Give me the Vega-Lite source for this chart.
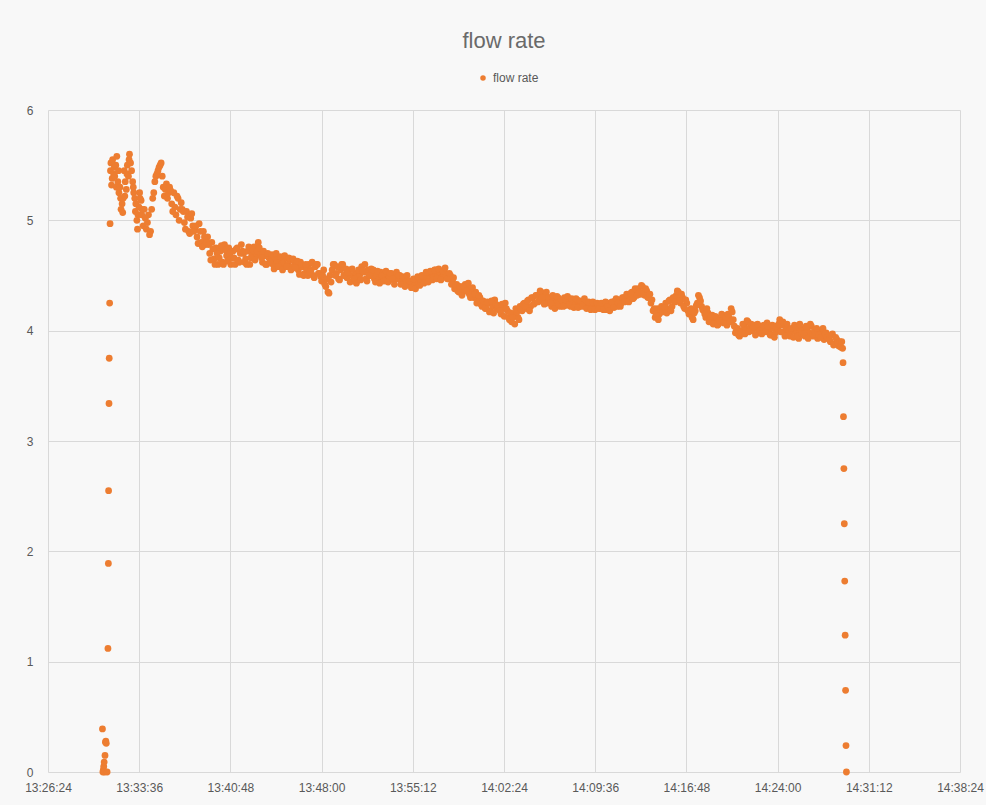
{
 "$schema": "https://vega.github.io/schema/vega-lite/v6.json",
 "width": 912, "height": 662,
 "autosize": "none",
 "padding": {"left": 48, "top": 110, "right": 26, "bottom": 33},
 "background": "#f8f8f8",
 "title": {"text": "flow rate", "anchor": "middle", "fontSize": 22, "font": "Liberation Sans, sans-serif", "fontWeight": "normal", "color": "#6a6a6a", "offset": 19},
 "data": {
  "format": {"parse": {"t": "date:'%H:%M:%S'"}},
  "values": [
   {"t":"13:30:42","v":0.39},{"t":"13:30:44","v":0},{"t":"13:30:46","v":0.02},{"t":"13:30:48","v":0.05},{"t":"13:30:50","v":0.09},{"t":"13:30:52","v":0},{"t":"13:30:54","v":0.15},{"t":"13:30:56","v":0.27},{"t":"13:30:58","v":0.28},{"t":"13:31:00","v":0.26},{"t":"13:31:04","v":0},
   {"t":"13:31:08","v":1.12},{"t":"13:31:10","v":1.89},{"t":"13:31:11","v":2.55},{"t":"13:31:13","v":3.34},{"t":"13:31:14","v":3.75},{"t":"13:31:16","v":4.25},{"t":"13:31:18","v":4.97},
   {"t":"13:31:20","v":5.45},{"t":"13:31:22","v":5.52},{"t":"13:31:25","v":5.32},{"t":"13:31:28","v":5.38},{"t":"13:31:30","v":5.55},{"t":"13:31:35","v":5.42},{"t":"13:31:38","v":5.48},{"t":"13:31:40","v":5.4},{"t":"13:31:45","v":5.5},{"t":"13:31:48","v":5.3},{"t":"13:31:50","v":5.58},{"t":"13:31:55","v":5.35},{"t":"13:31:58","v":5.45},
   {"t":"13:32:00","v":5.25},{"t":"13:32:05","v":5.3},{"t":"13:32:08","v":5.2},{"t":"13:32:10","v":5.1},{"t":"13:32:15","v":5.15},{"t":"13:32:18","v":5.07},{"t":"13:32:20","v":5.2},{"t":"13:32:25","v":5.45},{"t":"13:32:28","v":5.22},{"t":"13:32:30","v":5.35},{"t":"13:32:35","v":5.28},{"t":"13:32:38","v":5.42},{"t":"13:32:40","v":5.5},{"t":"13:32:45","v":5.4},{"t":"13:32:48","v":5.55},{"t":"13:32:50","v":5.6},{"t":"13:32:55","v":5.52},
   {"t":"13:33:00","v":5.45},{"t":"13:33:05","v":5.35},{"t":"13:33:08","v":5.3},{"t":"13:33:10","v":5.25},{"t":"13:33:15","v":5.2},{"t":"13:33:18","v":5.08},{"t":"13:33:20","v":5.15},{"t":"13:33:25","v":5.0},{"t":"13:33:28","v":4.92},{"t":"13:33:30","v":5.05},{"t":"13:33:35","v":5.12},{"t":"13:33:38","v":5.25},{"t":"13:33:40","v":5.2},{"t":"13:33:45","v":5.18},{"t":"13:33:48","v":5.05},{"t":"13:33:50","v":5.1},{"t":"13:33:55","v":4.95},
   {"t":"13:34:00","v":5.1},{"t":"13:34:05","v":5.02},{"t":"13:34:10","v":4.92},{"t":"13:34:15","v":4.98},{"t":"13:34:20","v":5.05},{"t":"13:34:25","v":4.87},{"t":"13:34:30","v":4.9},{"t":"13:34:35","v":5.1},{"t":"13:34:40","v":5.2},{"t":"13:34:45","v":5.25},{"t":"13:34:50","v":5.35},{"t":"13:34:55","v":5.4},
   {"t":"13:35:00","v":5.42},{"t":"13:35:05","v":5.45},{"t":"13:35:10","v":5.48},{"t":"13:35:15","v":5.5},{"t":"13:35:20","v":5.52},{"t":"13:35:25","v":5.4},{"t":"13:35:30","v":5.3},{"t":"13:35:35","v":5.22},{"t":"13:35:40","v":5.28},{"t":"13:35:45","v":5.33},{"t":"13:35:50","v":5.2},{"t":"13:35:55","v":5.25},
   {"t":"13:36:00","v":5.3},{"t":"13:36:10","v":5.15},{"t":"13:36:20","v":5.25},{"t":"13:36:30","v":5.05},{"t":"13:36:40","v":5.2},{"t":"13:36:50","v":5.1},
   {"t":"13:37:00","v":5.1},{"t":"13:37:10","v":4.98},{"t":"13:37:20","v":5.08},{"t":"13:37:30","v":4.9},{"t":"13:37:40","v":5.02},{"t":"13:37:50","v":4.95},
   {"t":"13:38:00","v":4.92},{"t":"13:38:10","v":4.85},{"t":"13:38:20","v":4.97},{"t":"13:38:30","v":4.8},{"t":"13:38:40","v":4.9},{"t":"13:38:50","v":4.78},
   {"t":"13:39:00","v":4.85},{"t":"13:39:10","v":4.7},{"t":"13:39:20","v":4.8},{"t":"13:39:30","v":4.65},{"t":"13:39:40","v":4.75},{"t":"13:39:50","v":4.6},
   {"t":"13:40:00","v":4.72},{"t":"13:40:10","v":4.62},{"t":"13:40:20","v":4.78},{"t":"13:40:30","v":4.68},{"t":"13:40:40","v":4.75},{"t":"13:40:50","v":4.6},
   {"t":"13:41:00","v":4.72},{"t":"13:41:10","v":4.6},{"t":"13:41:20","v":4.75},{"t":"13:41:30","v":4.62},{"t":"13:41:40","v":4.78},{"t":"13:41:50","v":4.7},
   {"t":"13:42:00","v":4.65},{"t":"13:42:10","v":4.72},{"t":"13:42:20","v":4.6},{"t":"13:42:30","v":4.7},{"t":"13:42:40","v":4.76},{"t":"13:42:50","v":4.68},
   {"t":"13:43:00","v":4.8},{"t":"13:43:10","v":4.7},{"t":"13:43:20","v":4.62},{"t":"13:43:30","v":4.68},{"t":"13:43:40","v":4.6},{"t":"13:43:50","v":4.66},
   {"t":"13:44:00","v":4.64},{"t":"13:44:10","v":4.6},{"t":"13:44:20","v":4.66},{"t":"13:44:30","v":4.62},{"t":"13:44:40","v":4.65},{"t":"13:44:50","v":4.6},
   {"t":"13:45:00","v":4.62},{"t":"13:45:10","v":4.66},{"t":"13:45:20","v":4.6},{"t":"13:45:30","v":4.64},{"t":"13:45:40","v":4.58},{"t":"13:45:50","v":4.63},
   {"t":"13:46:00","v":4.6},{"t":"13:46:10","v":4.55},{"t":"13:46:20","v":4.62},{"t":"13:46:30","v":4.58},{"t":"13:46:40","v":4.52},{"t":"13:46:50","v":4.56},
   {"t":"13:47:00","v":4.6},{"t":"13:47:10","v":4.55},{"t":"13:47:20","v":4.5},{"t":"13:47:30","v":4.58},{"t":"13:47:40","v":4.6},{"t":"13:47:50","v":4.52},
   {"t":"13:48:00","v":4.45},{"t":"13:48:10","v":4.55},{"t":"13:48:20","v":4.4},{"t":"13:48:30","v":4.35},{"t":"13:48:40","v":4.5},{"t":"13:48:50","v":4.55},
   {"t":"13:49:00","v":4.6},{"t":"13:49:10","v":4.52},{"t":"13:49:20","v":4.47},{"t":"13:49:30","v":4.55},{"t":"13:49:40","v":4.6},{"t":"13:49:50","v":4.5},
   {"t":"13:50:00","v":4.48},{"t":"13:50:10","v":4.55},{"t":"13:50:20","v":4.5},{"t":"13:50:30","v":4.45},{"t":"13:50:40","v":4.52},{"t":"13:50:50","v":4.48},
   {"t":"13:51:00","v":4.5},{"t":"13:51:10","v":4.58},{"t":"13:51:20","v":4.53},{"t":"13:51:30","v":4.47},{"t":"13:51:40","v":4.55},{"t":"13:51:50","v":4.5},
   {"t":"13:52:00","v":4.52},{"t":"13:52:10","v":4.47},{"t":"13:52:20","v":4.5},{"t":"13:52:30","v":4.46},{"t":"13:52:40","v":4.53},{"t":"13:52:50","v":4.48},
   {"t":"13:53:00","v":4.5},{"t":"13:53:10","v":4.45},{"t":"13:53:20","v":4.48},{"t":"13:53:30","v":4.52},{"t":"13:53:40","v":4.46},{"t":"13:53:50","v":4.5},
   {"t":"13:54:00","v":4.47},{"t":"13:54:10","v":4.5},{"t":"13:54:20","v":4.44},{"t":"13:54:30","v":4.48},{"t":"13:54:40","v":4.45},{"t":"13:54:50","v":4.42},
   {"t":"13:55:00","v":4.45},{"t":"13:55:10","v":4.4},{"t":"13:55:20","v":4.43},{"t":"13:55:30","v":4.47},{"t":"13:55:40","v":4.44},{"t":"13:55:50","v":4.46},
   {"t":"13:56:00","v":4.48},{"t":"13:56:10","v":4.45},{"t":"13:56:20","v":4.5},{"t":"13:56:30","v":4.47},{"t":"13:56:40","v":4.52},{"t":"13:56:50","v":4.5},
   {"t":"13:57:00","v":4.55},{"t":"13:57:10","v":4.5},{"t":"13:57:20","v":4.53},{"t":"13:57:30","v":4.48},{"t":"13:57:40","v":4.5},{"t":"13:57:50","v":4.52},
   {"t":"13:58:00","v":4.47},{"t":"13:58:10","v":4.5},{"t":"13:58:20","v":4.45},{"t":"13:58:30","v":4.38},{"t":"13:58:40","v":4.42},{"t":"13:58:50","v":4.35},
   {"t":"13:59:00","v":4.4},{"t":"13:59:10","v":4.35},{"t":"13:59:20","v":4.42},{"t":"13:59:30","v":4.38},{"t":"13:59:40","v":4.33},{"t":"13:59:50","v":4.37},
   {"t":"14:00:00","v":4.3},{"t":"14:00:10","v":4.35},{"t":"14:00:20","v":4.28},{"t":"14:00:30","v":4.3},{"t":"14:00:40","v":4.22},{"t":"14:00:50","v":4.25},
   {"t":"14:01:00","v":4.2},{"t":"14:01:10","v":4.25},{"t":"14:01:20","v":4.18},{"t":"14:01:30","v":4.22},{"t":"14:01:40","v":4.28},{"t":"14:01:50","v":4.2},
   {"t":"14:02:00","v":4.22},{"t":"14:02:10","v":4.15},{"t":"14:02:20","v":4.2},{"t":"14:02:30","v":4.25},{"t":"14:02:40","v":4.18},{"t":"14:02:50","v":4.1},
   {"t":"14:03:00","v":4.08},{"t":"14:03:10","v":4.15},{"t":"14:03:20","v":4.2},{"t":"14:03:30","v":4.12},{"t":"14:03:40","v":4.22},{"t":"14:03:50","v":4.18},
   {"t":"14:04:00","v":4.25},{"t":"14:04:10","v":4.2},{"t":"14:04:20","v":4.28},{"t":"14:04:30","v":4.22},{"t":"14:04:40","v":4.3},{"t":"14:04:50","v":4.25},
   {"t":"14:05:00","v":4.32},{"t":"14:05:10","v":4.27},{"t":"14:05:20","v":4.35},{"t":"14:05:30","v":4.28},{"t":"14:05:40","v":4.33},{"t":"14:05:50","v":4.25},
   {"t":"14:06:00","v":4.3},{"t":"14:06:10","v":4.22},{"t":"14:06:20","v":4.28},{"t":"14:06:30","v":4.25},{"t":"14:06:40","v":4.3},{"t":"14:06:50","v":4.22},
   {"t":"14:07:00","v":4.26},{"t":"14:07:10","v":4.3},{"t":"14:07:20","v":4.23},{"t":"14:07:30","v":4.28},{"t":"14:07:40","v":4.22},{"t":"14:07:50","v":4.27},
   {"t":"14:08:00","v":4.24},{"t":"14:08:10","v":4.28},{"t":"14:08:20","v":4.22},{"t":"14:08:30","v":4.26},{"t":"14:08:40","v":4.23},{"t":"14:08:50","v":4.25},
   {"t":"14:09:00","v":4.22},{"t":"14:09:10","v":4.25},{"t":"14:09:20","v":4.2},{"t":"14:09:30","v":4.24},{"t":"14:09:40","v":4.21},{"t":"14:09:50","v":4.23},
   {"t":"14:10:00","v":4.2},{"t":"14:10:10","v":4.24},{"t":"14:10:20","v":4.22},{"t":"14:10:30","v":4.19},{"t":"14:10:40","v":4.25},{"t":"14:10:50","v":4.22},
   {"t":"14:11:00","v":4.24},{"t":"14:11:10","v":4.27},{"t":"14:11:20","v":4.22},{"t":"14:11:30","v":4.28},{"t":"14:11:40","v":4.25},{"t":"14:11:50","v":4.3},
   {"t":"14:12:00","v":4.27},{"t":"14:12:10","v":4.32},{"t":"14:12:20","v":4.28},{"t":"14:12:30","v":4.35},{"t":"14:12:40","v":4.3},{"t":"14:12:50","v":4.36},
   {"t":"14:13:00","v":4.38},{"t":"14:13:10","v":4.33},{"t":"14:13:20","v":4.4},{"t":"14:13:30","v":4.32},{"t":"14:13:40","v":4.36},{"t":"14:13:50","v":4.3},
   {"t":"14:14:00","v":4.25},{"t":"14:14:10","v":4.18},{"t":"14:14:20","v":4.12},{"t":"14:14:30","v":4.2},{"t":"14:14:40","v":4.15},{"t":"14:14:50","v":4.22},
   {"t":"14:15:00","v":4.18},{"t":"14:15:10","v":4.25},{"t":"14:15:20","v":4.2},{"t":"14:15:30","v":4.28},{"t":"14:15:40","v":4.22},{"t":"14:15:50","v":4.3},
   {"t":"14:16:00","v":4.32},{"t":"14:16:10","v":4.35},{"t":"14:16:20","v":4.25},{"t":"14:16:30","v":4.3},{"t":"14:16:40","v":4.2},{"t":"14:16:50","v":4.25},
   {"t":"14:17:00","v":4.15},{"t":"14:17:10","v":4.2},{"t":"14:17:20","v":4.1},{"t":"14:17:30","v":4.18},{"t":"14:17:40","v":4.25},{"t":"14:17:50","v":4.3},
   {"t":"14:18:00","v":4.22},{"t":"14:18:10","v":4.18},{"t":"14:18:20","v":4.12},{"t":"14:18:30","v":4.16},{"t":"14:18:40","v":4.1},{"t":"14:18:50","v":4.14},
   {"t":"14:19:00","v":4.08},{"t":"14:19:10","v":4.12},{"t":"14:19:20","v":4.06},{"t":"14:19:30","v":4.1},{"t":"14:19:40","v":4.14},{"t":"14:19:50","v":4.1},
   {"t":"14:20:00","v":4.05},{"t":"14:20:10","v":4.12},{"t":"14:20:20","v":4.2},{"t":"14:20:30","v":4.1},{"t":"14:20:40","v":3.98},{"t":"14:20:50","v":4.02},
   {"t":"14:21:00","v":3.95},{"t":"14:21:10","v":4.0},{"t":"14:21:20","v":4.05},{"t":"14:21:30","v":4.02},{"t":"14:21:40","v":4.08},{"t":"14:21:50","v":4.03},
   {"t":"14:22:00","v":4.0},{"t":"14:22:10","v":4.05},{"t":"14:22:20","v":4.02},{"t":"14:22:30","v":3.98},{"t":"14:22:40","v":4.04},{"t":"14:22:50","v":4.0},
   {"t":"14:23:00","v":4.03},{"t":"14:23:10","v":4.07},{"t":"14:23:20","v":4.0},{"t":"14:23:30","v":3.96},{"t":"14:23:40","v":4.02},{"t":"14:23:50","v":3.98},
   {"t":"14:24:00","v":4.02},{"t":"14:24:10","v":4.1},{"t":"14:24:20","v":4.05},{"t":"14:24:30","v":3.98},{"t":"14:24:40","v":4.02},{"t":"14:24:50","v":3.96},
   {"t":"14:25:00","v":3.95},{"t":"14:25:10","v":4.0},{"t":"14:25:20","v":4.05},{"t":"14:25:30","v":3.98},{"t":"14:25:40","v":3.93},{"t":"14:25:50","v":4.02},
   {"t":"14:26:00","v":4.0},{"t":"14:26:10","v":3.95},{"t":"14:26:20","v":4.02},{"t":"14:26:30","v":3.98},{"t":"14:26:40","v":4.04},{"t":"14:26:50","v":3.95},
   {"t":"14:27:00","v":3.98},{"t":"14:27:10","v":3.93},{"t":"14:27:20","v":4.0},{"t":"14:27:30","v":3.96},{"t":"14:27:40","v":3.92},{"t":"14:27:50","v":3.98},
   {"t":"14:28:00","v":3.95},{"t":"14:28:10","v":3.9},{"t":"14:28:20","v":3.97},{"t":"14:28:30","v":3.88},{"t":"14:28:40","v":3.92},{"t":"14:28:50","v":3.86},
   {"t":"13:36:05","v":5.27},{"t":"13:36:15","v":5.08},{"t":"13:36:25","v":5.12},{"t":"13:36:35","v":5.22},{"t":"13:36:45","v":5.0},{"t":"13:36:55","v":5.16},
   {"t":"13:37:05","v":5.08},{"t":"13:37:15","v":4.92},{"t":"13:37:25","v":5.03},{"t":"13:37:35","v":4.88},{"t":"13:37:45","v":5.06},{"t":"13:37:55","v":4.9},
   {"t":"13:38:05","v":4.95},{"t":"13:38:15","v":4.79},{"t":"13:38:25","v":4.9},{"t":"13:38:35","v":4.76},{"t":"13:38:45","v":4.85},{"t":"13:38:55","v":4.8},
   {"t":"13:39:05","v":4.78},{"t":"13:39:15","v":4.64},{"t":"13:39:25","v":4.74},{"t":"13:39:35","v":4.6},{"t":"13:39:45","v":4.7},{"t":"13:39:55","v":4.66},
   {"t":"13:40:05","v":4.77},{"t":"13:40:15","v":4.6},{"t":"13:40:25","v":4.73},{"t":"13:40:35","v":4.63},{"t":"13:40:45","v":4.7},{"t":"13:40:55","v":4.66},
   {"t":"13:41:05","v":4.66},{"t":"13:41:15","v":4.74},{"t":"13:41:25","v":4.64},{"t":"13:41:35","v":4.7},{"t":"13:41:45","v":4.72},{"t":"13:41:55","v":4.62},
   {"t":"13:42:05","v":4.6},{"t":"13:42:15","v":4.76},{"t":"13:42:25","v":4.66},{"t":"13:42:35","v":4.73},{"t":"13:42:45","v":4.64},{"t":"13:42:55","v":4.72},
   {"t":"13:43:05","v":4.75},{"t":"13:43:15","v":4.66},{"t":"13:43:25","v":4.72},{"t":"13:43:35","v":4.6},{"t":"13:43:45","v":4.7},{"t":"13:43:55","v":4.62},
   {"t":"13:44:05","v":4.69},{"t":"13:44:15","v":4.56},{"t":"13:44:25","v":4.7},{"t":"13:44:35","v":4.58},{"t":"13:44:45","v":4.67},{"t":"13:44:55","v":4.55},
   {"t":"13:45:05","v":4.68},{"t":"13:45:15","v":4.58},{"t":"13:45:25","v":4.66},{"t":"13:45:35","v":4.55},{"t":"13:45:45","v":4.65},{"t":"13:45:55","v":4.57},
   {"t":"13:46:05","v":4.63},{"t":"13:46:15","v":4.51},{"t":"13:46:25","v":4.6},{"t":"13:46:35","v":4.5},{"t":"13:46:45","v":4.6},{"t":"13:46:55","v":4.5},
   {"t":"13:47:05","v":4.53},{"t":"13:47:15","v":4.62},{"t":"13:47:25","v":4.48},{"t":"13:47:35","v":4.6},{"t":"13:47:45","v":4.52},{"t":"13:47:55","v":4.49},
   {"t":"13:48:05","v":4.5},{"t":"13:48:15","v":4.42},{"t":"13:48:25","v":4.47},{"t":"13:48:35","v":4.34},{"t":"13:48:45","v":4.44},{"t":"13:48:55","v":4.6},
   {"t":"13:49:05","v":4.5},{"t":"13:49:15","v":4.58},{"t":"13:49:25","v":4.46},{"t":"13:49:35","v":4.6},{"t":"13:49:45","v":4.5},{"t":"13:49:55","v":4.56},
   {"t":"13:50:05","v":4.53},{"t":"13:50:15","v":4.44},{"t":"13:50:25","v":4.56},{"t":"13:50:35","v":4.47},{"t":"13:50:45","v":4.43},{"t":"13:50:55","v":4.55},
   {"t":"13:51:05","v":4.46},{"t":"13:51:15","v":4.54},{"t":"13:51:25","v":4.6},{"t":"13:51:35","v":4.45},{"t":"13:51:45","v":4.5},{"t":"13:51:55","v":4.56},
   {"t":"13:52:05","v":4.55},{"t":"13:52:15","v":4.44},{"t":"13:52:25","v":4.54},{"t":"13:52:35","v":4.43},{"t":"13:52:45","v":4.5},{"t":"13:52:55","v":4.45},
   {"t":"13:53:05","v":4.54},{"t":"13:53:15","v":4.44},{"t":"13:53:25","v":4.52},{"t":"13:53:35","v":4.47},{"t":"13:53:45","v":4.42},{"t":"13:53:55","v":4.53},
   {"t":"13:54:05","v":4.5},{"t":"13:54:15","v":4.42},{"t":"13:54:25","v":4.49},{"t":"13:54:35","v":4.4},{"t":"13:54:45","v":4.5},{"t":"13:54:55","v":4.45},
   {"t":"13:55:05","v":4.39},{"t":"13:55:15","v":4.47},{"t":"13:55:25","v":4.38},{"t":"13:55:35","v":4.49},{"t":"13:55:45","v":4.41},{"t":"13:55:55","v":4.5},
   {"t":"13:56:05","v":4.43},{"t":"13:56:15","v":4.53},{"t":"13:56:25","v":4.44},{"t":"13:56:35","v":4.54},{"t":"13:56:45","v":4.46},{"t":"13:56:55","v":4.55},
   {"t":"13:57:05","v":4.47},{"t":"13:57:15","v":4.56},{"t":"13:57:25","v":4.46},{"t":"13:57:35","v":4.54},{"t":"13:57:45","v":4.57},{"t":"13:57:55","v":4.47},
   {"t":"13:58:05","v":4.52},{"t":"13:58:15","v":4.42},{"t":"13:58:25","v":4.48},{"t":"13:58:35","v":4.41},{"t":"13:58:45","v":4.36},{"t":"13:58:55","v":4.4},
   {"t":"13:59:05","v":4.32},{"t":"13:59:15","v":4.4},{"t":"13:59:25","v":4.36},{"t":"13:59:35","v":4.43},{"t":"13:59:45","v":4.3},{"t":"13:59:55","v":4.39},
   {"t":"14:00:05","v":4.33},{"t":"14:00:15","v":4.25},{"t":"14:00:25","v":4.32},{"t":"14:00:35","v":4.24},{"t":"14:00:45","v":4.27},{"t":"14:00:55","v":4.2},
   {"t":"14:01:05","v":4.26},{"t":"14:01:15","v":4.17},{"t":"14:01:25","v":4.27},{"t":"14:01:35","v":4.16},{"t":"14:01:45","v":4.24},{"t":"14:01:55","v":4.23},
   {"t":"14:02:05","v":4.18},{"t":"14:02:15","v":4.24},{"t":"14:02:25","v":4.13},{"t":"14:02:35","v":4.2},{"t":"14:02:45","v":4.12},{"t":"14:02:55","v":4.16},
   {"t":"14:03:05","v":4.12},{"t":"14:03:15","v":4.06},{"t":"14:03:25","v":4.17},{"t":"14:03:35","v":4.1},{"t":"14:03:45","v":4.19},{"t":"14:03:55","v":4.24},
   {"t":"14:04:05","v":4.22},{"t":"14:04:15","v":4.27},{"t":"14:04:25","v":4.18},{"t":"14:04:35","v":4.3},{"t":"14:04:45","v":4.24},{"t":"14:04:55","v":4.32},
   {"t":"14:05:05","v":4.26},{"t":"14:05:15","v":4.36},{"t":"14:05:25","v":4.3},{"t":"14:05:35","v":4.24},{"t":"14:05:45","v":4.35},{"t":"14:05:55","v":4.3},
   {"t":"14:06:05","v":4.25},{"t":"14:06:15","v":4.32},{"t":"14:06:25","v":4.2},{"t":"14:06:35","v":4.31},{"t":"14:06:45","v":4.24},{"t":"14:06:55","v":4.28},
   {"t":"14:07:05","v":4.22},{"t":"14:07:15","v":4.28},{"t":"14:07:25","v":4.31},{"t":"14:07:35","v":4.24},{"t":"14:07:45","v":4.29},{"t":"14:07:55","v":4.21},
   {"t":"14:08:05","v":4.29},{"t":"14:08:15","v":4.21},{"t":"14:08:25","v":4.27},{"t":"14:08:35","v":4.22},{"t":"14:08:45","v":4.29},{"t":"14:08:55","v":4.2},
   {"t":"14:09:05","v":4.26},{"t":"14:09:15","v":4.19},{"t":"14:09:25","v":4.26},{"t":"14:09:35","v":4.19},{"t":"14:09:45","v":4.25},{"t":"14:09:55","v":4.2},
   {"t":"14:10:05","v":4.25},{"t":"14:10:15","v":4.19},{"t":"14:10:25","v":4.26},{"t":"14:10:35","v":4.22},{"t":"14:10:45","v":4.18},{"t":"14:10:55","v":4.26},
   {"t":"14:11:05","v":4.21},{"t":"14:11:15","v":4.29},{"t":"14:11:25","v":4.25},{"t":"14:11:35","v":4.22},{"t":"14:11:45","v":4.3},{"t":"14:11:55","v":4.26},
   {"t":"14:12:05","v":4.33},{"t":"14:12:15","v":4.26},{"t":"14:12:25","v":4.34},{"t":"14:12:35","v":4.29},{"t":"14:12:45","v":4.38},{"t":"14:12:55","v":4.32},
   {"t":"14:13:05","v":4.35},{"t":"14:13:15","v":4.41},{"t":"14:13:25","v":4.34},{"t":"14:13:35","v":4.38},{"t":"14:13:45","v":4.3},{"t":"14:13:55","v":4.33},
   {"t":"14:14:05","v":4.28},{"t":"14:14:15","v":4.2},{"t":"14:14:25","v":4.15},{"t":"14:14:35","v":4.1},{"t":"14:14:45","v":4.19},{"t":"14:14:55","v":4.17},
   {"t":"14:15:05","v":4.21},{"t":"14:15:15","v":4.16},{"t":"14:15:25","v":4.27},{"t":"14:15:35","v":4.18},{"t":"14:15:45","v":4.3},{"t":"14:15:55","v":4.26},
   {"t":"14:16:05","v":4.36},{"t":"14:16:15","v":4.28},{"t":"14:16:25","v":4.33},{"t":"14:16:35","v":4.22},{"t":"14:16:45","v":4.28},{"t":"14:16:55","v":4.18},
   {"t":"14:17:05","v":4.18},{"t":"14:17:15","v":4.12},{"t":"14:17:25","v":4.16},{"t":"14:17:35","v":4.23},{"t":"14:17:45","v":4.32},{"t":"14:17:55","v":4.27},
   {"t":"14:18:05","v":4.19},{"t":"14:18:15","v":4.15},{"t":"14:18:25","v":4.2},{"t":"14:18:35","v":4.08},{"t":"14:18:45","v":4.13},{"t":"14:18:55","v":4.06},
   {"t":"14:19:05","v":4.13},{"t":"14:19:15","v":4.05},{"t":"14:19:25","v":4.09},{"t":"14:19:35","v":4.15},{"t":"14:19:45","v":4.07},{"t":"14:19:55","v":4.12},
   {"t":"14:20:05","v":4.15},{"t":"14:20:15","v":4.08},{"t":"14:20:25","v":4.17},{"t":"14:20:35","v":4.04},{"t":"14:20:45","v":4.0},{"t":"14:20:55","v":3.96},
   {"t":"14:21:05","v":3.98},{"t":"14:21:15","v":4.06},{"t":"14:21:25","v":3.97},{"t":"14:21:35","v":4.09},{"t":"14:21:45","v":3.99},{"t":"14:21:55","v":4.06},
   {"t":"14:22:05","v":4.03},{"t":"14:22:15","v":3.96},{"t":"14:22:25","v":4.06},{"t":"14:22:35","v":4.0},{"t":"14:22:45","v":3.97},{"t":"14:22:55","v":4.05},
   {"t":"14:23:05","v":3.99},{"t":"14:23:15","v":4.04},{"t":"14:23:25","v":3.96},{"t":"14:23:35","v":4.05},{"t":"14:23:45","v":3.94},{"t":"14:23:55","v":4.04},
   {"t":"14:24:05","v":4.06},{"t":"14:24:15","v":3.99},{"t":"14:24:25","v":4.08},{"t":"14:24:35","v":3.95},{"t":"14:24:45","v":4.06},{"t":"14:24:55","v":4.0},
   {"t":"14:25:05","v":4.02},{"t":"14:25:15","v":3.94},{"t":"14:25:25","v":4.03},{"t":"14:25:35","v":3.95},{"t":"14:25:45","v":4.06},{"t":"14:25:55","v":3.97},
   {"t":"14:26:05","v":3.97},{"t":"14:26:15","v":4.04},{"t":"14:26:25","v":3.93},{"t":"14:26:35","v":4.06},{"t":"14:26:45","v":3.97},{"t":"14:26:55","v":4.0},
   {"t":"14:27:05","v":4.02},{"t":"14:27:15","v":3.96},{"t":"14:27:25","v":3.94},{"t":"14:27:35","v":4.02},{"t":"14:27:45","v":3.97},{"t":"14:27:55","v":3.94},
   {"t":"14:28:05","v":3.92},{"t":"14:28:15","v":3.96},{"t":"14:28:25","v":3.87},{"t":"14:28:35","v":3.94},{"t":"14:28:45","v":3.89},{"t":"14:28:55","v":3.9},
   {"t":"14:29:00","v":3.85},{"t":"14:29:04","v":3.9},{"t":"14:29:08","v":3.84},
   {"t":"14:29:10","v":3.71},{"t":"14:29:12","v":3.22},{"t":"14:29:14","v":2.75},{"t":"14:29:16","v":2.25},{"t":"14:29:18","v":1.73},{"t":"14:29:20","v":1.24},{"t":"14:29:22","v":0.74},{"t":"14:29:24","v":0.24},{"t":"14:29:26","v":0}
  ]
 },
 "mark": {"type": "circle", "size": 46, "opacity": 1},
 "encoding": {
  "x": {
   "field": "t", "type": "temporal",
   "scale": {"nice": false, "domain": [
    {"year":1900,"month":1,"date":1,"hours":13,"minutes":26,"seconds":24},
    {"year":1900,"month":1,"date":1,"hours":14,"minutes":38,"seconds":24}]},
   "axis": {
    "title": null, "format": "%H:%M:%S", "grid": true, "gridColor": "#d9d9d9", "domain": false, "ticks": false,
    "labelColor": "#595959", "labelFontSize": 12, "labelFont": "Liberation Sans, sans-serif", "labelPadding": 10, "labelFlush": false,
    "values": [
     {"year":1900,"month":1,"date":1,"hours":13,"minutes":26,"seconds":24},
     {"year":1900,"month":1,"date":1,"hours":13,"minutes":33,"seconds":36},
     {"year":1900,"month":1,"date":1,"hours":13,"minutes":40,"seconds":48},
     {"year":1900,"month":1,"date":1,"hours":13,"minutes":48,"seconds":0},
     {"year":1900,"month":1,"date":1,"hours":13,"minutes":55,"seconds":12},
     {"year":1900,"month":1,"date":1,"hours":14,"minutes":2,"seconds":24},
     {"year":1900,"month":1,"date":1,"hours":14,"minutes":9,"seconds":36},
     {"year":1900,"month":1,"date":1,"hours":14,"minutes":16,"seconds":48},
     {"year":1900,"month":1,"date":1,"hours":14,"minutes":24,"seconds":0},
     {"year":1900,"month":1,"date":1,"hours":14,"minutes":31,"seconds":12},
     {"year":1900,"month":1,"date":1,"hours":14,"minutes":38,"seconds":24}]
   }
  },
  "y": {
   "field": "v", "type": "quantitative",
   "scale": {"domain": [0, 6], "nice": false},
   "axis": {"title": null, "values": [0,1,2,3,4,5,6], "grid": true, "gridColor": "#d9d9d9", "domain": false, "ticks": false,
    "labelColor": "#595959", "labelFontSize": 12, "labelFont": "Liberation Sans, sans-serif", "labelPadding": 15}
  },
  "color": {
   "datum": "flow rate", "type": "nominal",
   "scale": {"range": ["#ED7D31"]},
   "legend": {"orient": "none", "legendX": 429, "legendY": -38, "title": null, "direction": "horizontal", "symbolType": "circle", "symbolSize": 30,
    "labelColor": "#595959", "labelFontSize": 12, "labelFont": "Liberation Sans, sans-serif", "symbolStrokeWidth": 0, "symbolFillColor": "#ED7D31"}
  }
 },
 "config": {"view": {"stroke": null}}
}
